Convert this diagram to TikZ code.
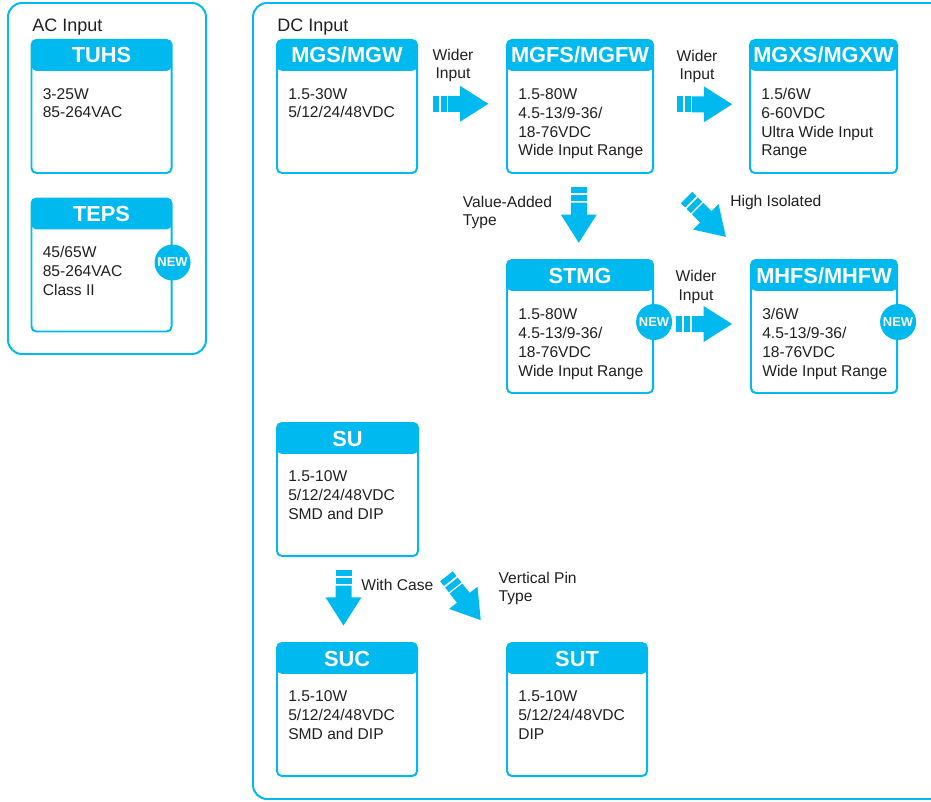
\documentclass[tikz,border=0pt]{standalone}
\usepackage{fontspec}
\setmainfont{Liberation Sans}
\usetikzlibrary{calc}
\definecolor{brand}{HTML}{00B9EE}
\definecolor{ink}{HTML}{231F20}
\tikzset{
  frame/.style={draw=brand, line width=1.4pt, rounded corners=10pt},
  card/.style={draw=brand, fill=white, line width=1.4pt, rounded corners=3.5pt,
    anchor=north west, inner sep=0pt, minimum height=94.6pt,
    path picture={\fill[brand] (path picture bounding box.north west)
      rectangle ([yshift=-22pt]path picture bounding box.north east);}},
  head/.style={text=white, font=\fontsize{15.5}{18}\selectfont\bfseries, anchor=base, inner sep=0pt},
  body/.style={text=ink, font=\fontsize{11.1}{13.5}\selectfont, align=left, anchor=base west, inner sep=0pt},
  lab/.style={text=ink, font=\fontsize{11.1}{13}\selectfont, inner sep=0pt},
  grp/.style={text=ink, font=\fontsize{12.8}{15}\selectfont, anchor=base west, inner sep=0pt},
  newdot/.style={circle, fill=brand, text=white, font=\fontsize{9.2}{10}\selectfont\bfseries,
    minimum size=25.6pt, inner sep=0pt},
  fatarrow/.pic={
    \fill[brand] (-27.8,-8) rectangle (-21.8,8);
    \fill[brand] (-19.8,-8) rectangle (-13.8,8);
    \fill[brand] (-12.3,-8) -- (-0.5,-8) -- (-0.5,-18) -- (27.8,0)
      -- (-0.5,18) -- (-0.5,8) -- (-12.3,8) -- cycle;
  },
}

\begin{document}
\begin{tikzpicture}[x=0.025cm, y=-0.025cm]
  \useasboundingbox (0,0) rectangle (931,801);
  \clip (0,0) rectangle (931,801);

  % group frames
  \draw[frame] (8,3) rectangle (206,354);
  \draw[frame] (253,3) rectangle (950,799);
  \node[grp] (ac) at (32,32) {AC Input};
  \node[grp] (dc) at (277,32) {DC Input};

  % AC input (body anchor = baseline of the last line)
  \node[card, minimum width=99.6pt] (tuhs) at (30.5,39) {};
  \node[head] (tuhs-h) at ($(tuhs.north)+(0,24)$) {TUHS};
  \node[body] (tuhs-b) at ($(tuhs.north west)+(12,79)$) {3-25W\\85-264VAC};

  \node[card, minimum width=99.6pt] (teps) at (30.5,197.5) {};
  \node[head] (teps-h) at ($(teps.north)+(0,24)$) {TEPS};
  \node[body] (teps-b) at ($(teps.north west)+(12,98)$) {45/65W\\85-264VAC\\Class II};

  % DC input, top row
  \node[card, minimum width=99.6pt] (mgs) at (276,39) {};
  \node[head] (mgs-h) at ($(mgs.north)+(0,24)$) {MGS/MGW};
  \node[body] (mgs-b) at ($(mgs.north west)+(12,79)$) {1.5-30W\\5/12/24/48VDC};

  \node[card, minimum width=103.9pt] (mgfs) at (506,39) {};
  \node[head] (mgfs-h) at ($(mgfs.north)+(0,24)$) {MGFS/MGFW};
  \node[body] (mgfs-b) at ($(mgfs.north west)+(12,117)$) {1.5-80W\\4.5-13/9-36/\\18-76VDC\\Wide Input Range};

  \node[card, minimum width=104.6pt] (mgxs) at (749,39) {};
  \node[head] (mgxs-h) at ($(mgxs.north)+(0,24)$) {MGXS/MGXW};
  \node[body] (mgxs-b) at ($(mgxs.north west)+(12,117)$) {1.5/6W\\6-60VDC\\Ultra Wide Input\\Range};

  % second row
  \node[card, minimum width=103.9pt] (stmg) at (506,259) {};
  \node[head] (stmg-h) at ($(stmg.north)+(0,24)$) {STMG};
  \node[body] (stmg-b) at ($(stmg.north west)+(12,117)$) {1.5-80W\\4.5-13/9-36/\\18-76VDC\\Wide Input Range};

  \node[card, minimum width=103.9pt] (mhfs) at (750,259) {};
  \node[head] (mhfs-h) at ($(mhfs.north)+(0,24)$) {MHFS/MHFW};
  \node[body] (mhfs-b) at ($(mhfs.north west)+(12,117)$) {3/6W\\4.5-13/9-36/\\18-76VDC\\Wide Input Range};

  % SU family
  \node[card, minimum width=100.3pt] (su) at (276,422) {};
  \node[head] (su-h) at ($(su.north)+(0,24)$) {SU};
  \node[body] (su-b) at ($(su.north west)+(12,97)$) {1.5-10W\\5/12/24/48VDC\\SMD and DIP};

  \node[card, minimum width=99.6pt] (suc) at (276,642) {};
  \node[head] (suc-h) at ($(suc.north)+(0,24)$) {SUC};
  \node[body] (suc-b) at ($(suc.north west)+(12,97)$) {1.5-10W\\5/12/24/48VDC\\SMD and DIP};

  \node[card, minimum width=99.6pt] (sut) at (506,642) {};
  \node[head] (sut-h) at ($(sut.north)+(0,24)$) {SUT};
  \node[body] (sut-b) at ($(sut.north west)+(12,97)$) {1.5-10W\\5/12/24/48VDC\\DIP};

  % fat arrows
  \coordinate (w1) at (460.5,103.8);
  \coordinate (w2) at (704.3,104.3);
  \coordinate (w3) at (704.2,324);
  \coordinate (va) at (578.8,215);
  \coordinate (hi) at (706.2,217.2);
  \coordinate (wc) at (343.5,597.8);
  \coordinate (vp) at (463.6,598.2);
  \pic at (w1) {fatarrow};
  \pic at (w2) {fatarrow};
  \pic at (w3) {fatarrow};
  \pic[rotate=-90] at (va) {fatarrow};
  \pic[rotate=-45] at (hi) {fatarrow};
  \pic[rotate=-90] at (wc) {fatarrow};
  \pic[rotate=-52] at (vp) {fatarrow};

  \node[lab, align=center, anchor=base] (w1-l) at (453,79) {Wider\\Input};
  \node[lab, align=center, anchor=base] (w2-l) at (697,80) {Wider\\Input};
  \node[lab, align=center, anchor=base] (w3-l) at (696,300) {Wider\\Input};
  \node[lab, align=left, anchor=base west] (va-l) at (462.7,225.3) {Value-Added\\Type};
  \node[lab, anchor=base west] (hi-l) at (730,206.7) {High Isolated};
  \node[lab, anchor=base west] (wc-l) at (361,590.7) {With Case};
  \node[lab, align=left, anchor=base west] (vp-l) at (498.3,601.3) {Vertical Pin\\Type};

  % badges
  \node[newdot] (teps-n) at ($(teps.north east)+(0,65)$) {NEW};
  \node[newdot] (stmg-n) at ($(stmg.north east)+(0,63)$) {NEW};
  \node[newdot] (mhfs-n) at ($(mhfs.north east)+(0,63)$) {NEW};
\end{tikzpicture}
\end{document}
